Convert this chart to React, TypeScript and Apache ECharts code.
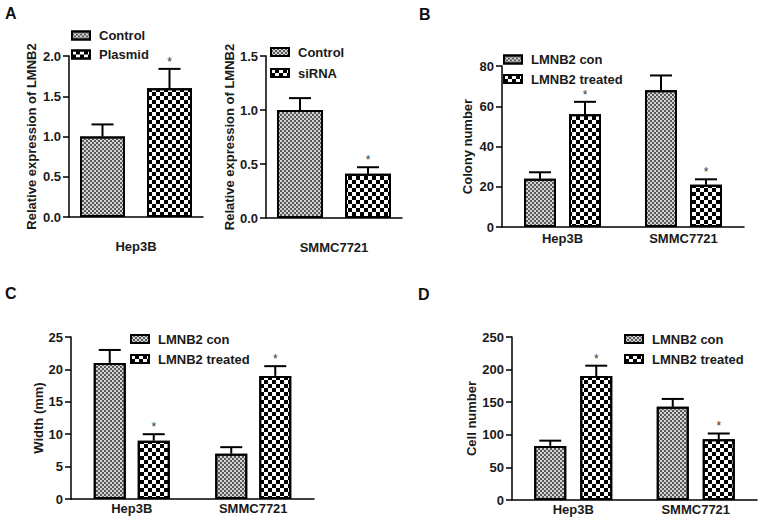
import React, { useEffect, useRef } from "react";
import * as echarts from "echarts";

const FONT = '"Liberation Sans", Arial, Helvetica, sans-serif';
const TXT = "#1a1a1a";

// ---------- data ----------
const catsA1 = ["Hep3B"];
const a1Names = ["Control", "Plasmid"];
const a1Control = [1.0];
const a1ControlErr = [0.15];
const a1Plasmid = [1.6];
const a1PlasmidErr = [0.24];
const a1Sig = [[0], [1]];

const catsA2 = ["SMMC7721"];
const a2Names = ["Control", "siRNA"];
const a2Control = [1.0];
const a2ControlErr = [0.11];
const a2Sirna = [0.41];
const a2SirnaErr = [0.06];
const a2Sig = [[0], [1]];

const catsBCD = ["Hep3B", "SMMC7721"];
const bcdNames = ["LMNB2 con", "LMNB2 treated"];

const bCon = [24, 68];
const bConErr = [3.2, 7.3];
const bTreated = [56, 21];
const bTreatedErr = [6.2, 2.7];
const bSig = [[0, 0], [1, 1]];

const cCon = [21, 7];
const cConErr = [2, 1];
const cTreated = [9, 19];
const cTreatedErr = [1, 1.5];
const cSig = [[0, 0], [1, 1]];

const dCon = [83, 143];
const dConErr = [8, 12];
const dTreated = [190, 93];
const dTreatedErr = [16, 9];
const dSig = [[0, 0], [1, 1]];

// ---------- styles ----------
const conStyle = {
  color: "#d4d4d4",
  borderColor: "#000",
  borderWidth: 2,
  decal: {
    symbol: "rect",
    symbolSize: 1,
    color: "#5a5a5a",
    dashArrayX: [[2, 2], [0, 2, 2, 0]],
    dashArrayY: [2, 0],
  },
};
const trtStyle = {
  color: "#ffffff",
  borderColor: "#000",
  borderWidth: 2,
  decal: {
    symbol: "rect",
    symbolSize: 1,
    color: "#000000",
    dashArrayX: [[3.5, 3.5], [0, 3.5, 3.5, 0]],
    dashArrayY: [3.5, 0],
  },
};

type Panel = {
  grid: { left: number; top: number; width: number; height: number };
  cats: string[];
  names: string[];
  values: number[][];
  errs: number[][];
  sig: number[][];
  max: number;
  interval: number;
  decimals: number;
  yName: string;
  nameGap: number;
  xLabelMargin: number;
  barWidth: number;
  gap: number;
  legend: { left: number; top: number; itemGap: number };
};

const panels: Panel[] = [
  {
    grid: { left: 69, top: 56, width: 134, height: 161 },
    cats: catsA1, names: a1Names,
    values: [a1Control, a1Plasmid], errs: [a1ControlErr, a1PlasmidErr], sig: a1Sig,
    max: 2, interval: 0.5, decimals: 1,
    yName: "Relative expression of LMNB2", nameGap: 31, xLabelMargin: 23,
    barWidth: 45, gap: 22,
    legend: { left: 71, top: 28.5, itemGap: 5 },
  },
  {
    grid: { left: 266, top: 56, width: 136, height: 162 },
    cats: catsA2, names: a2Names,
    values: [a2Control, a2Sirna], errs: [a2ControlErr, a2SirnaErr], sig: a2Sig,
    max: 1.5, interval: 0.5, decimals: 1,
    yName: "Relative expression of LMNB2", nameGap: 30, xLabelMargin: 23,
    barWidth: 46, gap: 22,
    legend: { left: 270, top: 45, itemGap: 7 },
  },
  {
    grid: { left: 502, top: 66, width: 242, height: 161 },
    cats: catsBCD, names: bcdNames,
    values: [bCon, bTreated], errs: [bConErr, bTreatedErr], sig: bSig,
    max: 80, interval: 20, decimals: 0,
    yName: "Colony number", nameGap: 28, xLabelMargin: 5,
    barWidth: 32, gap: 13,
    legend: { left: 503, top: 52.5, itemGap: 5.5 },
  },
  {
    grid: { left: 71, top: 337, width: 243, height: 162 },
    cats: catsBCD, names: bcdNames,
    values: [cCon, cTreated], errs: [cConErr, cTreatedErr], sig: cSig,
    max: 25, interval: 5, decimals: 0,
    yName: "Width (mm)", nameGap: 26, xLabelMargin: 3,
    barWidth: 32, gap: 12,
    legend: { left: 130, top: 332, itemGap: 6 },
  },
  {
    grid: { left: 512, top: 337, width: 245, height: 163 },
    cats: catsBCD, names: bcdNames,
    values: [dCon, dTreated], errs: [dConErr, dTreatedErr], sig: dSig,
    max: 250, interval: 50, decimals: 0,
    yName: "Cell number", nameGap: 32, xLabelMargin: 3,
    barWidth: 32, gap: 14,
    legend: { left: 624, top: 332, itemGap: 6 },
  },
];

const letters = [
  { t: "A", x: 5, y: 5 },
  { t: "B", x: 419, y: 6 },
  { t: "C", x: 5, y: 285 },
  { t: "D", x: 418, y: 286 },
];

function buildOption() {
  const grid: any[] = [];
  const xAxis: any[] = [];
  const yAxis: any[] = [];
  const series: any[] = [];
  const legend: any[] = [];

  panels.forEach((p, i) => {
    grid.push({ ...p.grid, containLabel: false });
    xAxis.push({
      type: "category",
      gridIndex: i,
      data: p.cats,
      axisLine: { lineStyle: { color: "#000", width: 1.5 } },
      axisTick: { alignWithLabel: true, length: 5, lineStyle: { color: "#000", width: 1.5 } },
      axisLabel: {
        margin: p.xLabelMargin,
        fontSize: 13,
        fontWeight: "bold",
        fontFamily: FONT,
        color: TXT,
      },
    });
    yAxis.push({
      type: "value",
      gridIndex: i,
      min: 0,
      max: p.max,
      interval: p.interval,
      name: p.yName,
      nameLocation: "middle",
      nameGap: p.nameGap,
      nameTextStyle: { fontSize: 13, fontWeight: "bold", fontFamily: FONT, color: TXT },
      splitLine: { show: false },
      axisLine: { show: true, lineStyle: { color: "#000", width: 1.5 } },
      axisTick: { show: true, length: 6, lineStyle: { color: "#000", width: 1.5 } },
      axisLabel: {
        margin: 8,
        fontSize: 13,
        fontWeight: "bold",
        fontFamily: FONT,
        color: TXT,
        formatter: (v: number) => v.toFixed(p.decimals),
      },
    });
    const off = (p.barWidth + p.gap) / 2;
    p.names.forEach((name, k) => {
      series.push({
        type: "bar",
        name,
        xAxisIndex: i,
        yAxisIndex: i,
        barWidth: p.barWidth,
        barGap: `${(p.gap / p.barWidth) * 100}%`,
        itemStyle: k === 0 ? conStyle : trtStyle,
        data: p.values[k],
        z: 2,
      });
    });
    p.names.forEach((name, k) => {
      const dx = k === 0 ? -off : off;
      series.push({
        type: "custom",
        name: "err-" + i + "-" + k,
        xAxisIndex: i,
        yAxisIndex: i,
        clip: false,
        z: 5,
        encode: { x: 0, y: 1 },
        data: p.values[k].map((v, j) => [j, v, p.errs[k][j], p.sig[k][j]]),
        renderItem: (params: any, api: any) => {
          const ci = api.value(0);
          const v = api.value(1);
          const e = api.value(2);
          const s = api.value(3);
          const base = api.coord([ci, v]);
          const top = api.coord([ci, v + e]);
          const x = base[0] + dx;
          const children: any[] = [
            { type: "line", shape: { x1: x, y1: base[1], x2: x, y2: top[1] }, style: { stroke: "#000", lineWidth: 2 } },
            { type: "line", shape: { x1: x - 11, y1: top[1], x2: x + 11, y2: top[1] }, style: { stroke: "#000", lineWidth: 2 } },
          ];
          if (s) {
            children.push({
              type: "text",
              x,
              y: top[1] - 1,
              style: {
                text: "*",
                fontSize: 12,
                fontFamily: FONT,
                fill: "#333",
                align: "center",
                verticalAlign: "bottom",
              },
            });
          }
          return { type: "group", children };
        },
      });
    });
    legend.push({
      orient: "vertical",
      left: p.legend.left,
      top: p.legend.top,
      padding: 0,
      itemGap: p.legend.itemGap,
      itemWidth: 18,
      itemHeight: 8,
      icon: "rect",
      selectedMode: false,
      data: p.names,
      textStyle: {
        fontSize: 13,
        fontWeight: "bold",
        fontFamily: FONT,
        color: TXT,
        lineHeight: 14,
        padding: [0, 0, 0, 4],
      },
    });
  });

  const graphic = letters.map((l) => ({
    type: "text",
    left: l.x,
    top: l.y,
    style: { text: l.t, fontSize: 16, fontWeight: "bold", fontFamily: FONT, fill: "#111" },
  }));

  return {
    animation: false,
    backgroundColor: "#ffffff",
    grid,
    xAxis,
    yAxis,
    series,
    legend,
    graphic,
  };
}

export default function App() {
  const ref = useRef<HTMLDivElement>(null);
  useEffect(() => {
    document.body.style.margin = "0";
    if (!ref.current) return;
    const chart = echarts.init(ref.current, undefined, { renderer: "svg" });
    chart.setOption(buildOption() as any);
    return () => chart.dispose();
  }, []);
  return <div ref={ref} style={{ width: 761, height: 521 }} />;
}
